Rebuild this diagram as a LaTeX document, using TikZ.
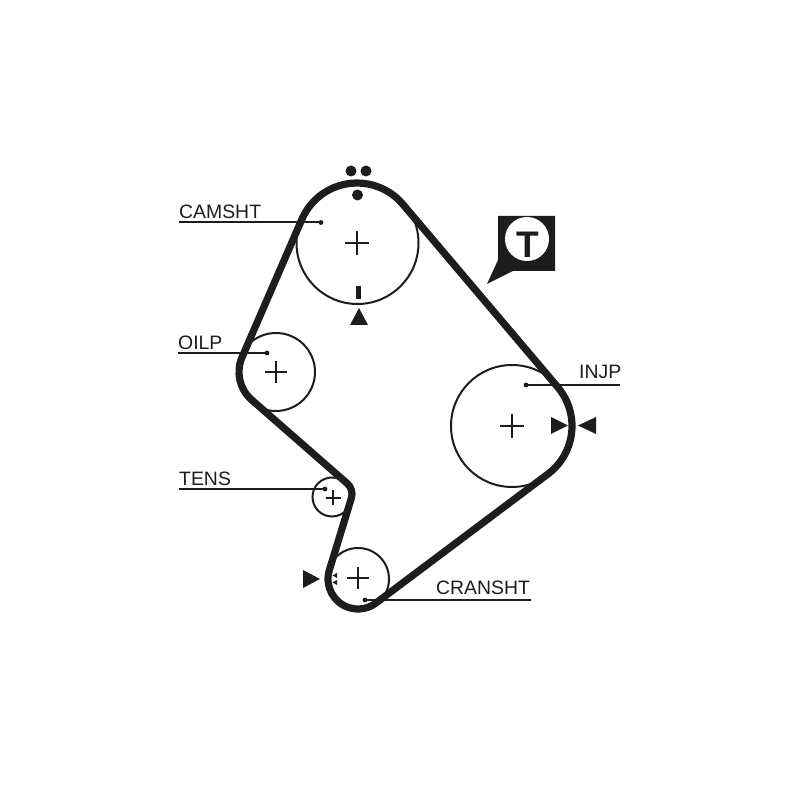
\documentclass[tikz,border=0pt]{standalone}
\usepackage{fontspec}
\setmainfont{Liberation Sans}
\usetikzlibrary{calc}
\definecolor{ink}{HTML}{1D1D1B}
\tikzset{
  pulley/.style={circle,draw=ink,line width=2pt,inner sep=0pt,outer sep=0pt},
  belt/.style={draw=ink,line width=7.2pt,line join=round},
  leader/.style={draw=ink,line width=2pt},
  label/.style={anchor=base west,inner sep=0pt,text=ink,font=\fontsize{19.4}{20}\selectfont},
  solidmark/.style={fill=ink,draw=none},
  crossbar/.style={draw=ink,line width=2.4pt}
}
\newcommand{\crosshair}[3]{%
  \draw[crossbar] ($(#1,#2)+(-#3,0)$) -- ($(#1,#2)+(#3,0)$);
  \draw[crossbar] ($(#1,#2)+(0,-#3)$) -- ($(#1,#2)+(0,#3)$);}
\begin{document}
\begin{tikzpicture}[x=1pt,y=1pt]
\useasboundingbox (0,0) rectangle (800,800);
% pulleys
\node[pulley,minimum size=122pt] (cam) at (357.5,557) {};
\node[pulley,minimum size=78pt] (oil) at (276,428) {};
\node[pulley,minimum size=39pt] (tens) at (332,303) {};
\node[pulley,minimum size=62pt] (crank) at (358,221) {};
\node[pulley,minimum size=122pt] (inj) at (512,374) {};
% belt bend centres
\coordinate (bA) at (357,557);
\coordinate (bB) at (276,428);
\coordinate (bC) at (338,306);
\coordinate (bD) at (358,221);
\coordinate (bE) at (512,374);
\path[belt]
  ($(bA)+(40.26:60)$) arc[start angle=40.26,end angle=156.56,radius=60]
  -- ($(bB)+(156.56:37)$) arc[start angle=156.56,end angle=228.82,radius=37]
  -- ($(bC)+(48.82:14)$) arc[start angle=48.82,end angle=-17.02,radius=14]
  -- ($(bD)+(162.98:30)$) arc[start angle=162.98,end angle=306.87,radius=30]
  -- ($(bE)+(-53.13:60)$) arc[start angle=-53.13,end angle=40.26,radius=60]
  -- cycle;
% centre crosses
\crosshair{357}{557}{12}
\crosshair{276}{428}{11}
\crosshair{333}{302}{7.5}
\crosshair{358}{222}{11}
\crosshair{512}{374}{12}
% labels
\node[label] (lcam) at (179,581.5) {CAMSHT};
\node[label] (loil) at (178,450) {OILP};
\node[label] (ltens) at (179,314) {TENS};
\node[label] (linj) at (579,421) {INJP};
\node[label] (lcrank) at (436,205) {CRANSHT};
% leaders
\coordinate (a1) at (179,577.5); \coordinate (a2) at (321,577.5);
\coordinate (b1) at (178,447); \coordinate (b2) at (267,447);
\coordinate (c1) at (179,311); \coordinate (c2) at (325,311);
\coordinate (d1) at (620,415); \coordinate (d2) at (526,415);
\coordinate (e1) at (531,200); \coordinate (e2) at (365,200);
\foreach \p/\q in {a1/a2,b1/b2,c1/c2,d1/d2,e1/e2}{
  \draw[leader] (\p) -- (\q);
  \fill[ink] (\q) circle[radius=2.4];
}
% timing marks: camshaft
\fill[solidmark] (351,629) circle[radius=5.5];
\fill[solidmark] (366,629) circle[radius=5.5];
\fill[solidmark] (357.5,605) circle[radius=5.5];
\fill[solidmark] (356.3,501) rectangle (361.3,514);
\fill[solidmark] (359,492) -- (350,475) -- (368,475) -- cycle;
% timing marks: injection pump
\fill[solidmark] (551,383) -- (551,366) -- (568,374.5) -- cycle;
\fill[solidmark] (596,383) -- (596,366) -- (578,374.5) -- cycle;
% timing marks: crankshaft
\fill[solidmark] (303,230) -- (303,212) -- (320,221) -- cycle;
\fill[solidmark] (332.5,224.5) -- (337,227) -- (337,222) -- cycle;
\fill[solidmark] (332.5,217.5) -- (337,220) -- (337,215) -- cycle;
% tensioner badge
\fill[ink] (498,584) -- (555,584) -- (555,529) -- (513,529) -- (487,516) -- (498,540) -- cycle;
\node[circle,fill=white,draw=none,minimum size=44pt,inner sep=0pt] (tbadge) at (527,561) {};
\node[anchor=center,inner sep=0pt,text=ink,font=\bfseries\fontsize{37}{37}\selectfont] (tletter) at (528,555) {T};
\end{tikzpicture}
\end{document}
